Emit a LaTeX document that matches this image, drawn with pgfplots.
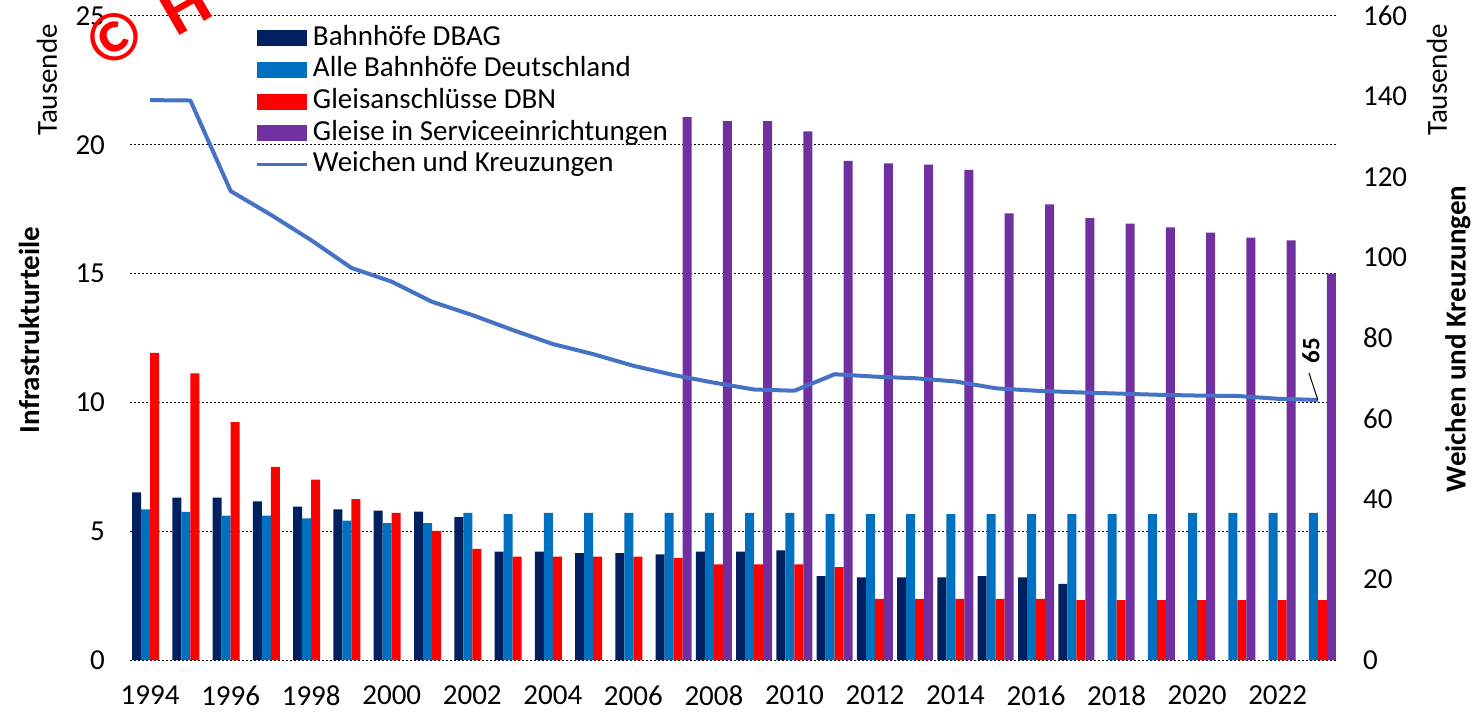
\documentclass[border=0pt]{standalone}
\usepackage{fontspec}
\setmainfont{Carlito}
\usepackage{pgfplots}
\usepackage{pgfplotstable}
\pgfplotsset{compat=1.18}
\definecolor{cDark}{HTML}{002060}
\definecolor{cBlue}{HTML}{0070C0}
\definecolor{cRed}{HTML}{FF0000}
\definecolor{cPurple}{HTML}{7030A0}
\definecolor{cLine}{HTML}{4472C4}

\pgfplotstableread{
year dark blue red purple line
1994 6.51 5.85 11.92 nan 139.1
1995 6.30 5.75 11.13 nan 139.0
1996 6.30 5.60 9.23 nan 116.5
1997 6.16 5.60 7.50 nan 110.6
1998 5.95 5.50 7.00 nan 104.3
1999 5.85 5.41 6.25 nan 97.4
2000 5.80 5.31 5.71 nan 94.0
2001 5.76 5.31 5.01 nan 89.0
2002 5.55 5.71 4.31 nan 85.7
2003 4.21 5.66 4.01 nan 82.0
2004 4.21 5.71 4.01 nan 78.5
2005 4.15 5.71 4.01 nan 76.0
2006 4.15 5.71 4.01 nan 73.1
2007 4.10 5.71 3.96 21.07 70.8
2008 4.21 5.71 3.71 20.92 68.9
2009 4.21 5.71 3.71 20.92 67.2
2010 4.26 5.71 3.71 20.52 66.9
2011 3.26 5.66 3.61 19.38 71.0
2012 3.21 5.66 2.37 19.28 70.4
2013 3.21 5.66 2.37 19.23 70.0
2014 3.21 5.66 2.37 19.03 69.2
2015 3.26 5.66 2.37 17.34 67.5
2016 3.21 5.66 2.37 17.69 66.9
2017 2.96 5.66 2.32 17.15 66.5
2018 nan 5.66 2.32 16.94 66.2
2019 nan 5.66 2.32 16.79 65.9
2020 nan 5.71 2.32 16.59 65.7
2021 nan 5.71 2.32 16.40 65.6
2022 nan 5.71 2.32 16.29 64.9
2023 nan 5.71 2.32 15.00 64.6
}\datatable

\pgfplotsset{
  barleg/.style={legend image code/.code={\fill[##1] (0pt,-4pt) rectangle (25pt,4pt);}},
  common/.style={
    width=604pt, height=322pt, scale only axis,
    xmin=1993.5, xmax=2023.5,
    axis line style={draw=none},
    major tick length=0pt,
    tick label style={font=\fontsize{14.5}{16.5}\selectfont},
    /pgf/number format/assume math mode=true,
    /pgf/number format/1000 sep={},
  }
}

\begin{document}
\begin{tikzpicture}
\begin{axis}[common,
  ymin=0, ymax=25, ytick={0,5,...,25},
  xtick={1994,1996,...,2022},
  xticklabel style={yshift=-9.5pt},
  yticklabel style={xshift=-9pt},
  ymajorgrids,
  major grid style={black, line width=0.5pt, dash pattern=on 1pt off 1pt},
  ybar=0pt, bar width=0.2235,
  legend style={draw=none, fill=none, at={(0.099,0.996)}, anchor=north west,
    font=\fontsize{14.5}{16.5}\selectfont, row sep=0.4pt,
    nodes={inner ysep=1.2pt, inner xsep=2pt, text height=10pt, text depth=3pt}},
  legend cell align=left,
]
\addplot[fill=cDark, draw=none, barleg] table[x=year, y=dark] {\datatable};
\addlegendentry{Bahnhöfe DBAG}
\addplot[fill=cBlue, draw=none, barleg] table[x=year, y=blue] {\datatable};
\addlegendentry{Alle Bahnhöfe Deutschland}
\addplot[fill=cRed, draw=none, barleg] table[x=year, y=red] {\datatable};
\addlegendentry{Gleisanschlüsse DBN}
\addplot[fill=cPurple, draw=none, barleg] table[x=year, y=purple] {\datatable};
\addlegendentry{Gleise in Serviceeinrichtungen}
\addlegendimage{legend image code/.code={\draw[cLine, line width=1.5pt] (0pt,0pt) -- (25pt,0pt);}}
\addlegendentry{Weichen und Kreuzungen}
\end{axis}
\begin{axis}[common,
  ymin=0, ymax=160, ytick={0,20,...,160},
  axis y line*=right, hide x axis,
  yticklabel style={xshift=9pt},
]
\addplot[cLine, line width=2pt, line join=round, no markers] table[x=year, y=line] {\datatable};
\draw[black, line width=0.5pt] (axis cs:2023,64.6) -- (axis cs:2022.78,71.3);
\node[rotate=90, font=\fontsize{12.5}{14}\selectfont\bfseries] at (axis cs:2022.83,76.8) {65};
\end{axis}
\node[rotate=90, font=\fontsize{14.5}{16.5}\selectfont\bfseries] at (-50.5pt,165pt) {Infrastrukturteile};
\node[rotate=90, font=\fontsize{14.5}{16.5}\selectfont] at (-41.5pt,290pt) {Tausende};
\node[rotate=90, font=\fontsize{14.5}{16.5}\selectfont] at (653.5pt,290pt) {Tausende};
\node[rotate=90, font=\fontsize{14.5}{16.5}\selectfont\bfseries] at (664pt,160.5pt) {Weichen und Kreuzungen};
\node[overlay, red, rotate=30, font=\fontsize{34}{36}\selectfont\bfseries] at (-8pt,311.5pt) {©};
\node[overlay, red, rotate=30, font=\fontsize{36}{38}\selectfont\bfseries] at (27pt,327pt) {H};
\pgfresetboundingbox
\useasboundingbox (-65pt,-26pt) rectangle (675.5pt,330pt);
\end{tikzpicture}
\end{document}
